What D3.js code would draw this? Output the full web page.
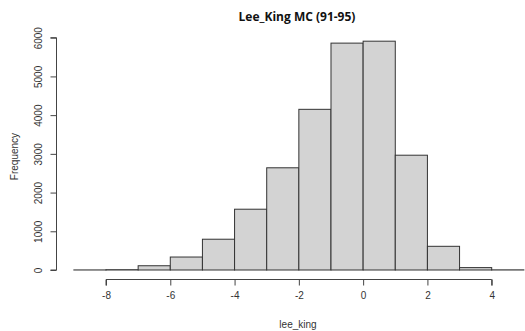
<!DOCTYPE html>
<html>
<head>
<meta charset="utf-8">
<script src="https://cdn.jsdelivr.net/npm/d3@7"></script>
<style>
  html, body { margin: 0; padding: 0; background: #fff; }
  svg { display: block; }
</style>
</head>
<body>
<svg id="chart" width="525" height="331"></svg>
<script>
// ---- data ----
const binStarts = [-9, -8, -7, -6, -5, -4, -3, -2, -1, 0, 1, 2, 3, 4];
const binWidth = 1;
const counts = [2, 8, 110, 335, 795, 1570, 2640, 4150, 5860, 5910, 2965, 612, 62, 4];
const xTicks = [-8, -6, -4, -2, 0, 2, 4];
const yTicks = [0, 1000, 2000, 3000, 4000, 5000, 6000];
const title = "Lee_King MC (91-95)";
const xLabel = "lee_king";
const yLabel = "Frequency";

// ---- layout ----
const svg = d3.select("#chart");
const x = d3.scaleLinear().domain([-8, 4]).range([106, 491.7]);
const y = d3.scaleLinear().domain([0, 6000]).range([270, 37.7]);
const font = "'Liberation Sans', Arial, sans-serif";

// bars
svg.append("g").selectAll("rect")
  .data(binStarts.map((s, i) => ({ s, c: counts[i] })))
  .join("rect")
  .attr("x", d => x(d.s))
  .attr("y", d => y(d.c))
  .attr("width", d => x(d.s + binWidth) - x(d.s))
  .attr("height", d => y(0) - y(d.c))
  .attr("fill", "#d3d3d3")
  .attr("stroke", "#333")
  .attr("stroke-width", 1);

// x axis
const xAxis = svg.append("g")
  .attr("transform", `translate(0,279.5)`)
  .call(d3.axisBottom(x).tickValues(xTicks).tickSize(6).tickPadding(6)
    .tickFormat(d => d < 0 ? "-" + Math.abs(d) : d));
xAxis.select(".domain").attr("stroke", "#444").attr("d", `M${x(-8)},6V0H${x(4)}V6`);
xAxis.selectAll(".tick line").attr("stroke", "#444");
xAxis.selectAll("text").attr("font-family", font).attr("font-size", 10).attr("fill", "#333");

// y axis
const yAxis = svg.append("g")
  .attr("transform", `translate(56.5,0)`)
  .call(d3.axisLeft(y).tickValues(yTicks).tickSize(6).tickPadding(0).tickFormat(d3.format("d")));
yAxis.select(".domain").attr("stroke", "#444").attr("d", `M-6,${y(0)}H0V${y(6000)}H-6`);
yAxis.selectAll(".tick line").attr("stroke", "#444");
yAxis.selectAll(".tick text")
  .attr("font-family", font).attr("font-size", 10).attr("fill", "#333")
  .attr("x", 0).attr("dy", null)
  .attr("text-anchor", "middle")
  .attr("transform", "translate(-14.5,0) rotate(-90)");

// title
svg.append("text")
  .attr("x", 297).attr("y", 20.5)
  .attr("text-anchor", "middle")
  .attr("font-family", "'Open Sans', 'Liberation Sans', sans-serif")
  .attr("font-weight", "bold")
  .attr("font-size", 12)
  .attr("fill", "#111")
  .text(title);

// axis labels
svg.append("text")
  .attr("x", 298).attr("y", 327.5)
  .attr("text-anchor", "middle")
  .attr("font-family", font).attr("font-size", 10).attr("fill", "#333")
  .text(xLabel);

svg.append("text")
  .attr("transform", "translate(17.5,156.5) rotate(-90)")
  .attr("text-anchor", "middle")
  .attr("font-family", font).attr("font-size", 10).attr("fill", "#333")
  .text(yLabel);
</script>
</body>
</html>
